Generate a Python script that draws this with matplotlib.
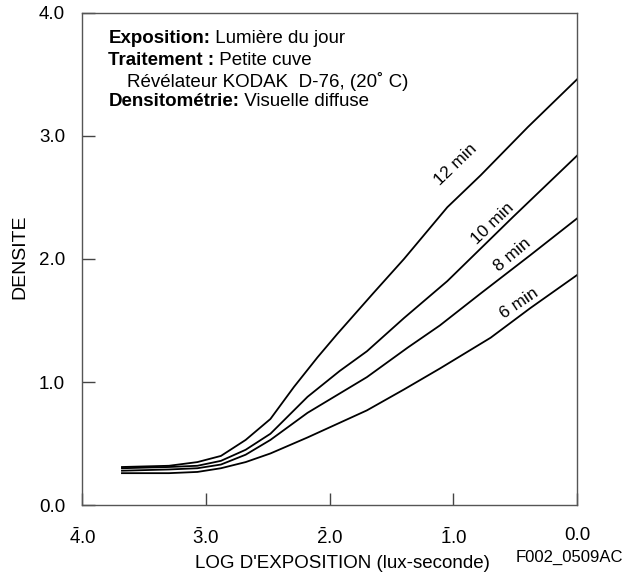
import matplotlib
matplotlib.use('Agg')
import matplotlib.pyplot as plt

plt.rcParams['font.family'] = ['Liberation Sans', 'DejaVu Sans']
plt.rcParams['mathtext.fontset'] = 'custom'
plt.rcParams['mathtext.rm'] = 'Liberation Sans'
plt.rcParams['mathtext.it'] = 'Liberation Sans'
plt.rcParams['mathtext.bf'] = 'Liberation Sans:bold'

# log exposure (negative characteristic shown with bar) and density per development time
x12 = [-3.68, -3.30, -3.07, -2.88, -2.68, -2.48, -2.29, -2.10, -1.94, -1.65, -1.40, -1.05, -0.78, -0.40, 0.0]
y12 = [0.31, 0.32, 0.35, 0.40, 0.53, 0.70, 0.96, 1.20, 1.39, 1.72, 2.00, 2.42, 2.68, 3.07, 3.46]
x10 = [-3.68, -3.30, -3.07, -2.88, -2.68, -2.48, -2.18, -1.92, -1.70, -1.40, -1.05, -0.52, 0.0]
y10 = [0.30, 0.31, 0.32, 0.36, 0.45, 0.58, 0.88, 1.09, 1.25, 1.52, 1.82, 2.34, 2.84]
x8 = [-3.68, -3.30, -3.07, -2.88, -2.68, -2.48, -2.18, -1.70, -1.37, -1.11, -0.78, -0.38, 0.0]
y8 = [0.28, 0.29, 0.30, 0.33, 0.41, 0.53, 0.75, 1.04, 1.28, 1.46, 1.72, 2.03, 2.33]
x6 = [-3.68, -3.30, -3.07, -2.88, -2.68, -2.48, -2.18, -1.70, -1.40, -1.11, -0.70, -0.38, 0.0]
y6 = [0.26, 0.26, 0.27, 0.30, 0.35, 0.42, 0.55, 0.77, 0.94, 1.11, 1.36, 1.60, 1.87]

curve_labels = ['12 min', '10 min', '8 min', '6 min']
label_pos = [(-0.98, 2.77, 44), (-0.68, 2.29, 44), (-0.52, 2.03, 40), (-0.47, 1.64, 34)]

xticks = [-4, -3, -2, -1, 0]
xticklabels = [r'$\bar{4}$.0', r'$\bar{3}$.0', r'$\bar{2}$.0', r'$\bar{1}$.0', '0.0']
yticks = [0, 1, 2, 3, 4]
yticklabels = ['0.0', '1.0', '2.0', '3.0', '4.0']

fig = plt.figure(figsize=(6.24, 5.78), dpi=100)
ax = fig.add_axes([0.132, 0.126, 0.793, 0.852])

for xs, ys in [(x12, y12), (x10, y10), (x8, y8), (x6, y6)]:
    ax.plot(xs, ys, color='black', lw=1.3)

for lab, (lx, ly, rot) in zip(curve_labels, label_pos):
    ax.text(lx, ly, lab, fontsize=12.5, rotation=rot, ha='center', va='center',
            rotation_mode='anchor')

ax.set_xlim(-4, 0)
ax.set_ylim(0, 4)
ax.set_xticks(xticks)
ax.set_xticklabels(xticklabels)
ax.set_yticks(yticks)
ax.set_yticklabels(yticklabels)
ax.tick_params(axis='both', direction='in', length=9, width=1, color='#444444', labelsize=13.5)
ax.tick_params(axis='y', pad=12.5)
ax.tick_params(axis='x', pad=16)
for s in ax.spines.values():
    s.set_color('#555555')
    s.set_linewidth(1.0)

ax.set_ylabel('DENSITE', fontsize=14)
ax.yaxis.set_label_coords(-0.109, 0.504)
ax.set_xlabel("LOG D'EXPOSITION (lux-seconde)", fontsize=13.5)
ax.xaxis.set_label_coords(0.526, -0.101)
fig.text(0.998, 0.0277, 'F002_0509AC', fontsize=12, ha='right', va='baseline')

# info block, bold heading followed by plain text
fs = 13.5
t1 = ax.text(0.0525, 0.931, 'Exposition:', transform=ax.transAxes, fontsize=fs,
             fontweight='bold', va='bottom')
ax.annotate(' Lumière du jour', xy=(1, 0), xycoords=t1, va='bottom', fontsize=fs)
t2 = ax.text(0.0525, 0.886, 'Traitement :', transform=ax.transAxes, fontsize=fs,
             fontweight='bold', va='bottom')
ax.annotate(' Petite cuve', xy=(1, 0), xycoords=t2, va='bottom', fontsize=fs)
ax.text(0.091, 0.841, 'Révélateur KODAK  D-76, (20˚ C)', transform=ax.transAxes,
        fontsize=fs, va='bottom')
t3 = ax.text(0.0525, 0.803, 'Densitométrie:', transform=ax.transAxes, fontsize=fs,
             fontweight='bold', va='bottom')
ax.annotate(' Visuelle diffuse', xy=(1, 0), xycoords=t3, va='bottom', fontsize=fs)

fig.savefig('out.png', dpi=100)
